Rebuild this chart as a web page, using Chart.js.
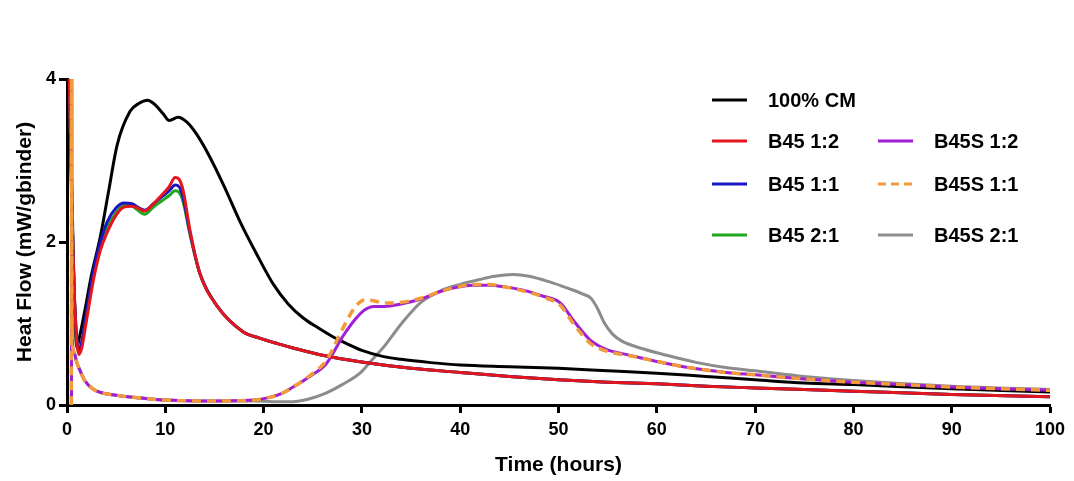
<!DOCTYPE html>
<html>
<head>
<meta charset="utf-8">
<script src="https://cdn.jsdelivr.net/npm/chart.js@4.4.0/dist/chart.umd.min.js"></script>
<style>
html, body { margin: 0; padding: 0; background: #fff; }
</style>
</head>
<body>
<canvas id="myChart" width="1074" height="481"></canvas>
<script>
// data (time in hours, heat flow in mW/gbinder)
const cmTime = [0.15,0.5,0.75,1.0,1.3,1.8,2.5,3.4,4.2,5.1,6.4,7.3,8.2,9.0,9.8,10.4,11.3,12.2,13.2,14.5,16.0,17.6,19.3,21.0,22.5,24.0,25.5,27.0,28.5,30,32,34,37,40,45,50,55,60,65,70,75,80,90,100];
const cmFlow = [4.6,2.6,1.3,0.71,0.85,1.15,1.6,2.07,2.6,3.19,3.6,3.7,3.74,3.68,3.57,3.49,3.53,3.47,3.32,3.05,2.68,2.25,1.85,1.48,1.24,1.07,0.95,0.84,0.75,0.67,0.6,0.56,0.52,0.49,0.47,0.45,0.42,0.39,0.35,0.31,0.27,0.25,0.20,0.16];

const b45Time = [0.15,0.5,0.8,1.2,1.5,2.0,2.7,3.4,4.1,5.0,5.8,6.6,7.3,7.9,8.8,9.6,10.4,11.0,11.4,11.8,12.5,13.5,15.3,17.9,19.6,21.5,23,26,29.8,35,40,45,50,55,60,65,70,80,90,100];
const b45_12 = [4.6,2.4,1.2,0.62,0.7,1.05,1.54,1.9,2.12,2.33,2.43,2.44,2.41,2.38,2.47,2.57,2.68,2.79,2.77,2.64,2.15,1.62,1.21,0.9,0.82,0.75,0.70,0.61,0.53,0.45,0.40,0.35,0.31,0.28,0.26,0.23,0.21,0.17,0.13,0.10];
const b45_11 = [4.6,2.4,1.2,0.66,0.78,1.15,1.65,2.0,2.25,2.42,2.48,2.47,2.42,2.39,2.47,2.55,2.63,2.70,2.68,2.55,2.12,1.62,1.21,0.9,0.82,0.75,0.70,0.61,0.53,0.45,0.40,0.35,0.31,0.28,0.26,0.23,0.21,0.17,0.13,0.10];
const b45_21 = [4.6,2.4,1.2,0.64,0.74,1.1,1.6,1.95,2.18,2.36,2.45,2.44,2.38,2.34,2.43,2.5,2.57,2.63,2.61,2.5,2.1,1.62,1.21,0.9,0.82,0.75,0.70,0.61,0.53,0.45,0.40,0.35,0.31,0.28,0.26,0.23,0.21,0.17,0.13,0.10];

const b45sTime = [0.45,0.47,0.5,0.7,1.0,1.3,1.8,2.6,3.5,5,6.2,8,10,13,16,19,20.5,22,23,24.7,26.4,28.1,29.3,30.3,31.2,32.3,34,36,37.9,39.5,41.3,43,44.5,46.4,48.3,50.2,51.5,52.3,53.2,54.9,56.5,58.3,61,63.7,67,70,75,80,85,90,95,100];
const b45s_12 = [0,4.6,0.9,0.65,0.52,0.43,0.3,0.2,0.15,0.12,0.10,0.08,0.06,0.05,0.05,0.06,0.09,0.15,0.22,0.35,0.51,0.85,1.05,1.17,1.21,1.21,1.24,1.3,1.39,1.44,1.47,1.47,1.45,1.41,1.34,1.25,1.04,0.92,0.80,0.68,0.63,0.58,0.51,0.45,0.40,0.37,0.32,0.28,0.25,0.22,0.20,0.18];
const b45s_11 = [0,4.6,0.9,0.65,0.52,0.43,0.3,0.2,0.15,0.12,0.10,0.08,0.06,0.05,0.05,0.06,0.09,0.15,0.22,0.36,0.55,0.95,1.2,1.29,1.28,1.25,1.26,1.31,1.39,1.44,1.48,1.48,1.45,1.40,1.33,1.22,1.0,0.88,0.76,0.66,0.62,0.58,0.51,0.45,0.40,0.37,0.32,0.28,0.25,0.22,0.20,0.18];

const b45s21Time = [0.45,0.47,0.5,0.7,1.0,1.3,1.8,2.6,3.5,5,6.2,8,10,13,16,19,21,23,24.5,26.4,28,29.8,31,32.2,34.1,36,38,40,42,43.5,45.4,47,49.1,51,52.5,53.3,53.9,54.7,55.5,56.5,58.3,61,64.1,67,70,75,80,90,100];
const b45s_21 = [0,4.6,0.9,0.65,0.52,0.43,0.3,0.2,0.15,0.12,0.10,0.08,0.06,0.05,0.05,0.05,0.04,0.04,0.07,0.15,0.25,0.39,0.55,0.71,1.01,1.26,1.4,1.48,1.54,1.58,1.60,1.58,1.51,1.43,1.36,1.31,1.2,1.0,0.87,0.78,0.70,0.61,0.52,0.46,0.42,0.35,0.30,0.23,0.19];

const xTicks = [0,10,20,30,40,50,60,70,80,90,100];
const yTicks = [0,2,4];

const FONT = '"Liberation Sans", Arial, sans-serif';

function pts(xs, ys) {
    return xs.map((x, i) => ({x: x, y: ys[i]}));
}

function series(label, xs, ys, color, order, dash) {
    return {
        label: label,
        data: pts(xs, ys),
        borderColor: color,
        backgroundColor: color,
        borderWidth: dash ? 3.5 : 3,
        borderDash: dash || [],
        pointRadius: 0,
        cubicInterpolationMode: 'monotone',
        fill: false,
        order: order
    };
}

const datasets = [
    series('100% CM', cmTime, cmFlow, '#000000', 5),
    series('B45 1:2', b45Time, b45_12, '#e3161d', 1),
    series('B45 1:1', b45Time, b45_11, '#1616c4', 3),
    series('B45 2:1', b45Time, b45_21, '#21a821', 4),
    series('B45S 1:2', b45sTime, b45s_12, '#a01fd6', 2),
    series('B45S 1:1', b45sTime, b45s_11, '#f29b3b', 0, [9, 6]),
    series('B45S 2:1', b45s21Time, b45s_21, '#8c8c8c', 6)
];

// legend in two columns, like the original
const legendSlots = [
    {ds: 0, x: 712, y: 100},
    {ds: 1, x: 712, y: 141},
    {ds: 2, x: 712, y: 184},
    {ds: 3, x: 712, y: 235},
    {ds: 4, x: 878, y: 141},
    {ds: 5, x: 878, y: 184},
    {ds: 6, x: 878, y: 235}
];

const sideLegend = {
    id: 'sideLegend',
    afterDraw(chart) {
        const ctx = chart.ctx;
        ctx.save();
        ctx.font = 'bold 20px ' + FONT;
        ctx.textBaseline = 'middle';
        ctx.textAlign = 'left';
        legendSlots.forEach(slot => {
            const ds = chart.data.datasets[slot.ds];
            ctx.strokeStyle = ds.borderColor;
            ctx.lineWidth = 3;
            ctx.setLineDash(ds.borderDash.length ? [8, 5] : []);
            ctx.beginPath();
            ctx.moveTo(slot.x, slot.y);
            ctx.lineTo(slot.x + 35, slot.y);
            ctx.stroke();
            ctx.setLineDash([]);
            ctx.fillStyle = '#000';
            ctx.fillText(ds.label, slot.x + 56, slot.y + 1);
        });
        ctx.restore();
    }
};

const ctx = document.getElementById('myChart').getContext('2d');
const heatChart = new Chart(ctx, {
    type: 'line',
    data: { datasets: datasets },
    plugins: [sideLegend],
    options: {
        responsive: false,
        animation: false,
        devicePixelRatio: 1,
        layout: { padding: { top: 79, right: 24, left: 0, bottom: 0 } },
        plugins: {
            legend: { display: false },
            tooltip: { enabled: false }
        },
        scales: {
            x: {
                type: 'linear',
                min: 0,
                max: 100,
                afterFit: s => { s.height = 76; },
                afterBuildTicks: s => { s.ticks = xTicks.map(v => ({value: v})); },
                border: { display: true, color: '#000', width: 3 },
                grid: { display: true, drawOnChartArea: false, drawTicks: true, tickLength: 8, tickWidth: 3, tickColor: '#000' },
                ticks: { color: '#000', font: { family: FONT, size: 18, weight: 'bold' }, padding: 6, maxRotation: 0 },
                title: { display: true, text: 'Time (hours)', color: '#000', font: { family: FONT, size: 21, weight: 'bold' }, padding: { top: 0, bottom: 3 } }
            },
            y: {
                type: 'linear',
                min: 0,
                max: 4,
                afterFit: s => { s.width = 67; },
                afterBuildTicks: s => { s.ticks = yTicks.map(v => ({value: v})); },
                border: { display: true, color: '#000', width: 3 },
                grid: { display: true, drawOnChartArea: false, drawTicks: true, tickLength: 8, tickWidth: 3, tickColor: '#000' },
                ticks: { color: '#000', font: { family: FONT, size: 18, weight: 'bold' }, padding: 3 },
                title: { display: true, text: 'Heat Flow (mW/gbinder)', color: '#000', font: { family: FONT, size: 21, weight: 'bold' }, padding: { top: 13, bottom: 0 } }
            }
        }
    }
});
</script>
</body>
</html>
